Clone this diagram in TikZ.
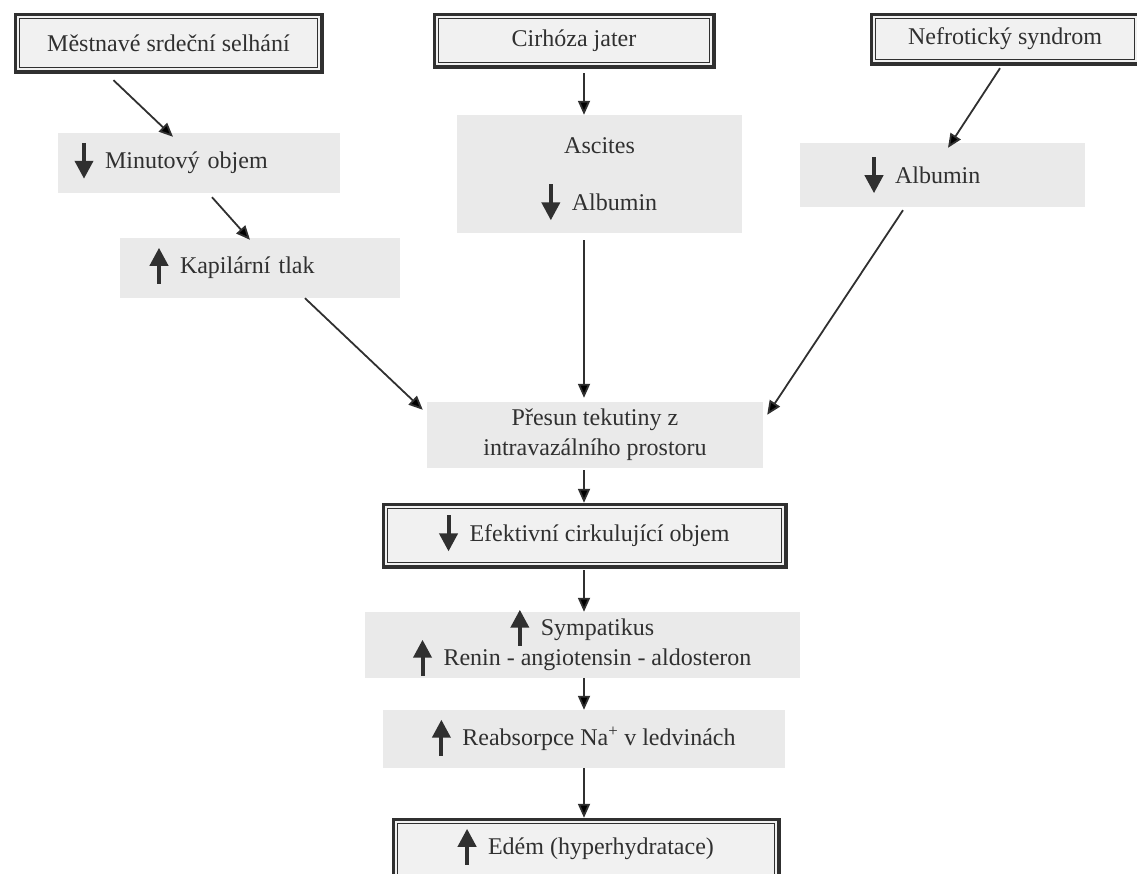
\documentclass[tikz,border=0pt]{standalone}
\usepackage{fontspec}
\setmainfont{Liberation Serif}
\usepackage{tikz}
\usetikzlibrary{arrows.meta,calc}
\definecolor{ink}{HTML}{303030}
\definecolor{boxgray}{HTML}{EAEAEA}
\definecolor{framegray}{HTML}{F1F1F1}
\newcommand{\uparr}{\smash{\tikz[baseline=0pt,x=1pt,y=1pt]\draw[ink,line width=4pt,-{Triangle[width=18pt,length=18pt]}] (0,-10) -- (0,26);}\hspace{0.5em}}
\newcommand{\dnarr}{\smash{\tikz[baseline=0pt,x=1pt,y=1pt]\draw[ink,line width=4pt,-{Triangle[width=18pt,length=18pt]}] (0,26) -- (0,-10);}\hspace{0.5em}}

\begin{document}
\begin{tikzpicture}[x=1pt,y=-1pt,
    font=\fontsize{24}{30}\selectfont, text=ink,
    mainbox/.style={fill=framegray, inner sep=0pt,
      preaction={draw=ink, line width=9pt},
      postaction={draw=ink, line width=1.2pt, double=framegray, double distance=1.5pt}},
    graybox/.style={fill=boxgray, inner sep=0pt},
    arr/.style={draw=ink, line width=1.8pt, -{Triangle[width=12pt,length=14pt]}}]
  \useasboundingbox (0,0) rectangle (1137,873);
  \coordinate (axis) at (584,0);
  \node[mainbox, minimum width=301pt, minimum height=52pt] (heart) at (168.5,43) {Městnavé srdeční selhání};
  \node[mainbox, minimum width=274pt, minimum height=47pt] (liver) at (574,40.5) {Cirhóza jater};
  \node[mainbox, minimum width=262pt, minimum height=44pt] (kidney) at (1005,39) {Nefrotický syndrom};
  \node[graybox, minimum height=60pt, text width=248pt, align=left, inner xsep=17pt] (output) at (199,163) {\dnarr Minutový objem};
  \node[graybox, minimum height=60pt, text width=220pt, align=left, inner xsep=30pt] (capil) at (260,268) {\uparr Kapilární tlak};
  \node[graybox, minimum width=285pt, minimum height=118pt, align=center] (ascites) at (599.5,174) {Ascites\\[27pt]\dnarr Albumin};
  \node[graybox, minimum height=64pt, text width=155pt, align=left, inner xsep=65pt] (albumin) at (942.5,175) {\dnarr Albumin};
  \node[graybox, minimum width=336pt, minimum height=66pt, align=center] (shift) at (595,435) {Přesun tekutiny z\\intravazálního prostoru};
  \node[mainbox, minimum width=397pt, minimum height=57pt] (volume) at (584.5,535.5) {\dnarr Efektivní cirkulující objem};
  \node[graybox, minimum width=435pt, minimum height=66pt, align=center] (sympa) at (582.5,645) {\uparr Sympatikus\\\uparr Renin - angiotensin - aldosteron};
  \node[graybox, minimum width=402pt, minimum height=58pt] (sodium) at (584,739) {\uparr Reabsorpce Na\textsuperscript{+} v ledvinách};
  \node[mainbox, minimum width=380pt, minimum height=54pt] (edema) at (586,849) {\uparr Edém (hyperhydratace)};

  \draw[arr] ([xshift=-55pt,yshift=-11pt]heart.south) -- ([xshift=-26pt,yshift=-4pt]output.north);
  \draw[arr] ([xshift=13pt,yshift=-4pt]output.south) -- ([xshift=-10pt,yshift=-2pt]capil.north);
  \draw[arr] ([xshift=45pt]capil.south) -- ([xshift=-4pt,yshift=-8pt]shift.north west);
  \draw[arr, shorten <=9pt] (liver.south -| axis) -- (ascites.north -| axis);
  \draw[arr, shorten <=7pt, shorten >=4pt] (ascites.south -| axis) -- (shift.north -| axis);
  \draw[arr] ([xshift=-5pt,yshift=-7pt]kidney.south) -- ([xshift=5.5pt,yshift=-5pt]albumin.north);
  \draw[arr] ([xshift=-39.5pt,yshift=-3pt]albumin.south) -- ([xshift=4pt,yshift=-13pt]shift.north east);
  \draw[arr, shorten <=2pt, shorten >=4pt] (shift.south -| axis) -- (volume.north -| axis);
  \draw[arr, shorten <=6pt] (volume.south -| axis) -- (sympa.north -| axis);
  \draw[arr] (sympa.south -| axis) -- (sodium.north -| axis);
  \draw[arr, shorten >=4pt] (sodium.south -| axis) -- (edema.north -| axis);
\end{tikzpicture}
\end{document}
